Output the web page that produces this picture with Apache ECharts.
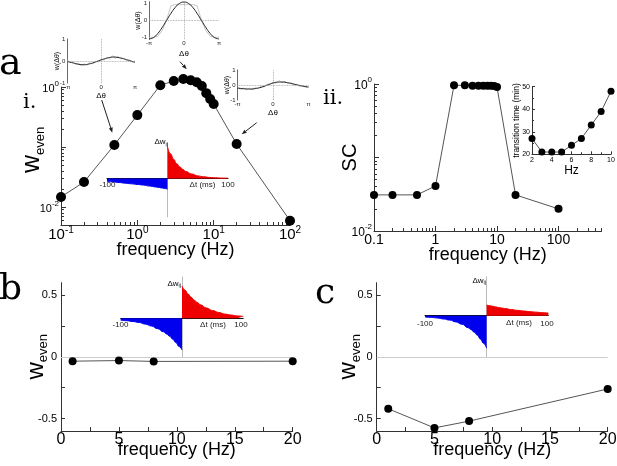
<!DOCTYPE html>
<html><head><meta charset="utf-8">
<script src="https://cdn.jsdelivr.net/npm/echarts@6/dist/echarts.min.js"></script>
<style>html,body{margin:0;padding:0;background:#fff}#c{width:617px;height:466px}</style>
</head><body><div id="c"></div>
<script>
const F = 'Liberation Sans';
const SERIF = 'DejaVu Serif';

// ---- Panel a-i: w_even vs frequency ----
const freqA  = [0.1, 0.2, 0.5, 1, 2, 3, 4, 5, 6, 7, 8, 9, 10, 20, 100];
const wEvenA = [0.0147, 0.026, 0.108, 0.34, 1.07, 1.26, 1.36, 1.30, 1.20, 1.04, 0.79, 0.63, 0.52, 0.112, 0.0059];
// ---- Panel a-ii: SC vs frequency ----
const freqSC = [0.1, 0.2, 0.5, 1, 2, 3, 4, 5, 6, 7, 8, 9, 10, 20, 100];
const scVals = [0.031, 0.031, 0.031, 0.041, 0.96, 0.96, 0.95, 0.95, 0.95, 0.95, 0.95, 0.94, 0.91, 0.031, 0.020];
// inset: transition time
const hzTrans   = [2, 3, 4, 5, 6, 7, 8, 9, 10];
const transTime = [27, 21, 21, 21, 24, 27, 33, 39, 48];
// ---- Panels b, c ----
const freqBC = [1, 5, 8, 20];
const wEvenB = [-0.035, -0.03, -0.037, -0.035];
const wEvenC = [-0.42, -0.575, -0.52, -0.26];
// ---- STDP windows ----
const dtPos = [0, 5, 10, 15, 20, 25, 30, 40, 50, 60, 70, 80, 90, 100];
const dtNeg = [-100, -90, -80, -70, -60, -50, -40, -30, -25, -20, -15, -10, -5, 0];
const dwA_pos = [1, 0.78, 0.61, 0.47, 0.37, 0.29, 0.22, 0.14, 0.08, 0.05, 0.03, 0.02, 0.01, 0.007];
const dwA_neg = [-0.10, -0.11, -0.13, -0.15, -0.17, -0.19, -0.21, -0.24, -0.255, -0.27, -0.285, -0.30, -0.32, -0.34];
const dwB_pos = [1, 0.87, 0.75, 0.65, 0.56, 0.49, 0.42, 0.32, 0.24, 0.18, 0.13, 0.10, 0.075, 0.057];
const dwB_neg = [-0.057, -0.075, -0.10, -0.13, -0.18, -0.24, -0.32, -0.42, -0.49, -0.56, -0.65, -0.75, -0.87, -0.98];
const dwC_pos = [0.33, 0.31, 0.29, 0.27, 0.25, 0.235, 0.22, 0.19, 0.165, 0.145, 0.125, 0.11, 0.095, 0.085];
const dwC_neg = [-0.036, -0.05, -0.07, -0.10, -0.135, -0.19, -0.26, -0.37, -0.43, -0.51, -0.60, -0.72, -0.85, -1.0];
// ---- w(Δθ) insets (θ in units of π) ----
const thetaCoarse = [-1, -0.875, -0.75, -0.625, -0.5, -0.375, -0.25, -0.125, 0, 0.125, 0.25, 0.375, 0.5, 0.625, 0.75, 0.875, 1];
const thetaFine = [-1, -0.917, -0.833, -0.75, -0.667, -0.583, -0.5, -0.417, -0.333, -0.25, -0.167, -0.083, 0, 0.083, 0.167, 0.25, 0.333, 0.417, 0.5, 0.583, 0.667, 0.75, 0.833, 0.917, 1];
const th1Black = [-0.02, -0.07, -0.12, -0.16, -0.17, -0.14, -0.09, -0.02, 0.05, 0.11, 0.16, 0.18, 0.16, 0.12, 0.06, 0.0, -0.05];
const th1Gray  = [0.04, -0.06, -0.04, -0.15, -0.10, -0.21, -0.13, -0.19, -0.08, -0.13, -0.02, -0.05, 0.08, 0.04, 0.16, 0.10, 0.24, 0.12, 0.20, 0.09, 0.12, 0.02, 0.05, -0.05, -0.06];
const th2Black = [-1.1, -1.02, -0.78, -0.42, 0, 0.42, 0.78, 1.02, 1.1, 1.02, 0.78, 0.42, 0, -0.42, -0.78, -1.02, -1.1];
const th2Gray  = [-1.0, -1.0, -0.95, -0.6, 0, 0.88, 0.95, 0.95, 0.95, 0.95, 0.95, 0.88, 0, -0.6, -0.95, -1.0, -1.0];
const th3Black = [-0.2, -0.24, -0.26, -0.27, -0.24, -0.18, -0.09, 0.03, 0.13, 0.19, 0.2, 0.17, 0.11, 0.04, -0.03, -0.09, -0.14];
const th3Gray  = [-0.15, -0.3, -0.2, -0.33, -0.22, -0.3, -0.18, -0.22, -0.06, -0.12, 0.06, 0.02, 0.2, 0.1, 0.3, 0.15, 0.24, 0.08, 0.15, 0.0, 0.05, -0.1, -0.04, -0.15, -0.12];
// ---- tick labels ----
const ticksAx = [0.1, 1, 10, 100];
const ticksAy = [0.01, 1];
const ticksSCx = [0.1, 1, 10, 100];
const ticksSCy = [0.01, 1];
const ticksBCy = [-0.5, 0, 0.5];
const ticksTheta = [-1, 0, 1];

const zip = (xs, ys) => xs.map((x, i) => [x, ys[i]]);
const minorLog = (lo, hi, vmin, vmax) => { const o = []; for (let e = lo; e < hi; e++) for (let m = 2; m <= 9; m++) { const v = +(m * Math.pow(10, e)).toPrecision(3); if (v >= vmin && v <= vmax) o.push(v); } return o; };
const supFmt = v => '{b|10}{s|' + Math.round(Math.log10(v)) + '}';
const supRich = (b, s, lb, ls) => ({
  b: { fontSize: b, fontFamily: F, color: '#000', lineHeight: lb, verticalAlign: 'bottom' },
  s: { fontSize: s, fontFamily: F, color: '#000', lineHeight: ls, verticalAlign: 'top' }
});
const wEvenRich = (w, s) => ({
  w: { fontSize: w, fontFamily: F, color: '#000', lineHeight: w + 2, verticalAlign: 'top' },
  s: { fontSize: s, fontFamily: F, color: '#000', lineHeight: s + 2, verticalAlign: 'bottom' }
});
const AX = '#333';
const line = (c, w) => ({ show: true, onZero: false, lineStyle: { color: c || AX, width: w || 1 } });
const tick = (len, vals) => Object.assign({ show: true, inside: true, length: len, lineStyle: { color: AX, width: 1 } }, vals ? { customValues: vals } : {});
const noTick = { show: false };

const grids = [
  { left: 61, top: 87, width: 229, height: 138 },          // 0 a-i
  { left: 374, top: 84, width: 227.5, height: 147 },       // 1 a-ii
  { left: 532, top: 86.7, width: 79, height: 67.6 },       // 2 a-ii inset
  { left: 61, top: 282.7, width: 231.7, height: 148.3 },   // 3 b
  { left: 376.7, top: 282.7, width: 231, height: 148.3 },  // 4 c
  { left: 67.3, top: 39, width: 67.7, height: 44 },        // 5 th1
  { left: 149, top: 1.7, width: 70, height: 37.6 },        // 6 th2
  { left: 237.5, top: 70, width: 71, height: 30 },         // 7 th3
  { left: 107, top: 143, width: 121, height: 74 },         // 8 stdp a
  { left: 120.7, top: 277, width: 122.6, height: 79.7 },   // 9 stdp b
  { left: 425, top: 276.7, width: 123.3, height: 80 }      // 10 stdp c
].map(g => Object.assign({ containLabel: false, outerBoundsMode: 'none' }, g));

const nameStyle = (fs) => ({ fontSize: fs, fontFamily: F, color: '#000' });

const thX = (gi, gap) => ({ gridIndex: gi, type: 'value', min: -1, max: 1, axisLine: { show: false }, axisTick: noTick, splitLine: { show: false },
  axisLabel: { customValues: ticksTheta, formatter: v => v < 0 ? '-π' : (v > 0 ? 'π' : '0'), fontSize: 6, fontFamily: F, color: '#222', margin: 1 },
  name: 'Δθ', nameLocation: 'middle', nameGap: gap, nameTextStyle: nameStyle(8), nameMoveOverlap: false });
const thY = (gi, mn, mx) => ({ gridIndex: gi, type: 'value', min: mn, max: mx, axisLine: line('#444', 0.8), axisTick: noTick, splitLine: { show: false },
  axisLabel: { customValues: ticksTheta, fontSize: 6, fontFamily: F, color: '#222', margin: 2 },
  name: 'w(Δθ)', nameLocation: 'middle', nameGap: 7, nameTextStyle: nameStyle(7), nameMoveOverlap: false });
const stX = (gi) => ({ gridIndex: gi, type: 'value', min: -100, max: 100, axisLine: { show: true, onZero: true, lineStyle: { color: '#111', width: 1 } }, axisTick: noTick, splitLine: { show: false }, axisLabel: { show: false } });
const stY = (gi, mn, mx) => ({ gridIndex: gi, type: 'value', min: mn, max: mx, axisLine: { show: true, onZero: true, lineStyle: { color: '#bbb', width: 1 } }, axisTick: noTick, axisLabel: { show: false }, splitLine: { show: false } });

const xAxis = [
  { gridIndex: 0, type: 'log', logBase: 10, min: 0.1, max: 100, axisLine: line(), axisTick: tick(5, ticksAx), splitLine: { show: false },
    axisLabel: { customValues: ticksAx, formatter: supFmt, rich: supRich(15, 10, 17, 8), margin: 0 },
    name: 'frequency (Hz)', nameLocation: 'middle', nameGap: 16, nameTextStyle: nameStyle(18), nameMoveOverlap: false },
  { gridIndex: 1, type: 'log', logBase: 10, min: 0.1, max: 500, axisLine: line(), axisTick: tick(5, ticksSCx), splitLine: { show: false },
    axisLabel: { customValues: ticksSCx, formatter: v => String(v), fontSize: 14, fontFamily: F, color: '#000', margin: 2 },
    name: 'frequency (Hz)', nameLocation: 'middle', nameGap: 15, nameTextStyle: nameStyle(18), nameMoveOverlap: false },
  { gridIndex: 2, type: 'value', min: 2, max: 10, interval: 2, axisLine: line(), axisTick: tick(3), minorTick: { show: true, splitNumber: 2, length: 2, lineStyle: { color: AX } }, splitLine: { show: false },
    axisLabel: { fontSize: 7, fontFamily: F, color: '#000', margin: 2 },
    name: 'Hz', nameLocation: 'middle', nameGap: 10, nameTextStyle: nameStyle(12), nameMoveOverlap: false },
  { gridIndex: 3, type: 'value', min: 0, max: 20, interval: 5, axisLine: line(), axisTick: tick(4), minorTick: { show: true, splitNumber: 2, length: 4, lineStyle: { color: AX } }, splitLine: { show: false },
    axisLabel: { fontSize: 16, fontFamily: F, color: '#000', margin: 1 },
    name: 'frequency (Hz)', nameLocation: 'middle', nameGap: 10, nameTextStyle: nameStyle(18), nameMoveOverlap: false },
  { gridIndex: 4, type: 'value', min: 0, max: 20, interval: 5, axisLine: line(), axisTick: tick(4), minorTick: { show: true, splitNumber: 2, length: 4, lineStyle: { color: AX } }, splitLine: { show: false },
    axisLabel: { fontSize: 16, fontFamily: F, color: '#000', margin: 1 },
    name: 'frequency (Hz)', nameLocation: 'middle', nameGap: 10, nameTextStyle: nameStyle(18), nameMoveOverlap: false },
  thX(5, 9), thX(6, 10), thX(7, 9),
  stX(8), stX(9), stX(10),
  // minor tick overlays
  { gridIndex: 0, type: 'log', logBase: 10, min: 0.1, max: 100, position: 'bottom', axisLine: { show: false }, axisLabel: { show: false }, splitLine: { show: false }, axisTick: tick(3, minorLog(-1, 2, 0.1, 100)) },
  { gridIndex: 1, type: 'log', logBase: 10, min: 0.1, max: 500, position: 'bottom', axisLine: { show: false }, axisLabel: { show: false }, splitLine: { show: false }, axisTick: tick(3, minorLog(-1, 3, 0.1, 500)) }
];

const yAxis = [
  { gridIndex: 0, type: 'log', logBase: 10, min: 0.005, max: 1, axisLine: line(), axisTick: tick(5, [0.01, 0.1, 1]), splitLine: { show: false },
    axisLabel: { customValues: ticksAy, formatter: supFmt, rich: supRich(11, 8, 15, 9), margin: 2 },
    name: '{w|w}{s|even}', nameLocation: 'middle', nameGap: 14, nameTextStyle: { padding: [0, 0, 0, 12], rich: wEvenRich(25, 13) }, nameMoveOverlap: false },
  { gridIndex: 1, type: 'log', logBase: 10, min: 0.01, max: 1, axisLine: line(), axisTick: tick(5, [0.01, 0.1, 1]), splitLine: { show: false },
    axisLabel: { customValues: ticksSCy, formatter: supFmt, rich: supRich(12, 8, 16, 9), margin: 2 },
    name: 'SC', nameLocation: 'middle', nameGap: 14, nameTextStyle: nameStyle(20), nameMoveOverlap: false },
  { gridIndex: 2, type: 'value', min: 20, max: 50, interval: 10, axisLine: line(), axisTick: tick(3), minorTick: { show: true, splitNumber: 2, length: 2, lineStyle: { color: AX } }, splitLine: { show: false },
    axisLabel: { fontSize: 7, fontFamily: F, color: '#000', margin: 2 },
    name: 'transition time (min)', nameLocation: 'middle', nameGap: 11, nameTextStyle: nameStyle(8.5), nameMoveOverlap: false },
  { gridIndex: 3, type: 'value', min: -0.6, max: 0.6, axisLine: line(), axisTick: tick(4, [-0.5, -0.25, 0, 0.25, 0.5]), splitLine: { show: false },
    axisLabel: { customValues: ticksBCy, fontSize: 11, fontFamily: F, color: '#000', margin: 4 },
    name: '{w|w}{s|even}', nameLocation: 'middle', nameGap: 11, nameTextStyle: { rich: wEvenRich(24, 13) }, nameMoveOverlap: false },
  { gridIndex: 4, type: 'value', min: -0.6, max: 0.6, axisLine: line(), axisTick: tick(4, [-0.5, -0.25, 0, 0.25, 0.5]), splitLine: { show: false },
    axisLabel: { customValues: ticksBCy, fontSize: 11, fontFamily: F, color: '#000', margin: 4 },
    name: '{w|w}{s|even}', nameLocation: 'middle', nameGap: 14, nameTextStyle: { rich: wEvenRich(24, 13) }, nameMoveOverlap: false },
  thY(5, -1, 1), thY(6, -1.12, 1.12), thY(7, -1, 1),
  stY(8, -1.22, 1.12), stY(9, -1.19, 1.28), stY(10, -1.26, 1.2),
  { gridIndex: 0, type: 'log', logBase: 10, min: 0.005, max: 1, position: 'left', axisLine: { show: false }, axisLabel: { show: false }, splitLine: { show: false }, axisTick: tick(3, minorLog(-3, 0, 0.005, 1)) },
  { gridIndex: 1, type: 'log', logBase: 10, min: 0.01, max: 1, position: 'left', axisLine: { show: false }, axisLabel: { show: false }, splitLine: { show: false }, axisTick: tick(3, minorLog(-2, 0, 0.01, 1)) }
];

const dots = (xi, data, size) => ({ type: 'line', xAxisIndex: xi, yAxisIndex: xi, data, symbol: 'circle', symbolSize: size, showSymbol: true,
  itemStyle: { color: '#000' }, lineStyle: { color: '#555', width: 1 }, clip: false, z: 5 });
const zeroLine = { silent: true, symbol: ['none', 'none'], label: { show: false }, lineStyle: { color: '#ccc', type: 'solid', width: 1 }, data: [{ yAxis: 0 }] };
const dottedCross = { silent: true, symbol: ['none', 'none'], label: { show: false }, lineStyle: { color: '#999', type: 'dotted', width: 0.8 }, data: [{ xAxis: 0 }, { yAxis: 0 }] };
const thSeries = (xi, gray, black) => [
  { type: 'line', xAxisIndex: xi, yAxisIndex: xi, data: zip(thetaFine.length === gray.length ? thetaFine : thetaCoarse, gray), showSymbol: false, symbol: 'none', lineStyle: { color: '#bbb', width: 0.8 }, clip: false, markLine: dottedCross },
  { type: 'line', xAxisIndex: xi, yAxisIndex: xi, data: zip(thetaCoarse, black), showSymbol: false, symbol: 'none', smooth: true, lineStyle: { color: '#222', width: 1 }, clip: false }
];
const stdpSeries = (xi, pos, neg) => [
  { type: 'line', xAxisIndex: xi, yAxisIndex: xi, data: zip(dtNeg, neg), showSymbol: false, symbol: 'none', smooth: true, smoothMonotone: 'x', lineStyle: { color: '#0000ee', width: 1 }, areaStyle: { color: '#0000ee', opacity: 1, origin: 0 }, z: 6 },
  { type: 'line', xAxisIndex: xi, yAxisIndex: xi, data: zip(dtPos, pos), showSymbol: false, symbol: 'none', smooth: true, smoothMonotone: 'x', lineStyle: { color: '#ee0000', width: 1 }, areaStyle: { color: '#ee0000', opacity: 1, origin: 0 }, z: 6 }
];

const series = [
  dots(0, zip(freqA, wEvenA), 10),
  dots(1, zip(freqSC, scVals), 8),
  dots(2, zip(hzTrans, transTime), 7),
  Object.assign(dots(3, zip(freqBC, wEvenB), 8), { markLine: zeroLine }),
  Object.assign(dots(4, zip(freqBC, wEvenC), 8), { markLine: zeroLine }),
  ...thSeries(5, th1Gray, th1Black),
  ...thSeries(6, th2Gray, th2Black),
  ...thSeries(7, th3Gray, th3Black),
  ...stdpSeries(8, dwA_pos, dwA_neg),
  ...stdpSeries(9, dwB_pos, dwB_neg),
  ...stdpSeries(10, dwC_pos, dwC_neg)
];

function arrow(x1, y1, x2, y2) {
  const a = Math.atan2(y2 - y1, x2 - x1), L = 5, W = 2;
  const bx = x2 - L * Math.cos(a), by = y2 - L * Math.sin(a);
  const px = -Math.sin(a) * W, py = Math.cos(a) * W;
  return [
    { type: 'line', shape: { x1, y1, x2: bx, y2: by }, style: { stroke: '#222', lineWidth: 1 } },
    { type: 'polygon', shape: { points: [[x2, y2], [bx + px, by + py], [bx - px, by - py]] }, style: { fill: '#222' } }
  ];
}
const txt = (x, y, text, fs, fam, align, extra) => ({ type: 'text', x, y, z: 10, style: Object.assign({ text, fontSize: fs, fontFamily: fam, fill: '#000', align: align || 'left', verticalAlign: 'middle' }, extra || {}) });
const dwRich = { rich: { w: { fontSize: 8, fontFamily: F, color: '#222', verticalAlign: 'top', lineHeight: 9 }, s: { fontSize: 5.5, fontFamily: F, color: '#222', verticalAlign: 'bottom', lineHeight: 6 } } };
const small = { fill: '#222' };

const graphic = [
  txt(-1, 64, 'a', 38, SERIF),
  txt(23, 103, 'i.', 21, SERIF),
  txt(323, 99, 'ii.', 21, SERIF),
  txt(-1, 290, 'b', 36, SERIF),
  txt(315, 294, 'c', 36, SERIF),
  txt(168, 142.5, '{w|Δw}{s|ij}', 8, F, 'right', dwRich),
  txt(181, 284, '{w|Δw}{s|ij}', 8, F, 'right', dwRich),
  txt(486, 281, '{w|Δw}{s|ij}', 8, F, 'right', dwRich),
  txt(202.5, 184.5, 'Δt (ms)', 8, F, 'center', small),
  txt(213, 325, 'Δt (ms)', 8, F, 'center', small),
  txt(519, 323, 'Δt (ms)', 8, F, 'center', small),
  txt(107.5, 184.5, '-100', 8, F, 'center', small),
  txt(228, 184.5, '100', 8, F, 'center', small),
  txt(120.5, 325, '-100', 8, F, 'center', small),
  txt(241, 325, '100', 8, F, 'center', small),
  txt(425, 323.5, '-100', 8, F, 'center', small),
  txt(547, 323.5, '100', 8, F, 'center', small),
  ...arrow(101.7, 100, 112.3, 132.7),
  ...arrow(180, 61.7, 186.7, 69.3),
  ...arrow(256.7, 122.7, 241.7, 134.3)
];

const chart = echarts.init(document.getElementById('c'), null, { renderer: 'canvas' });
chart.setOption({ backgroundColor: '#fff', animation: false, grid: grids, xAxis, yAxis, series, graphic });
</script></body></html>
